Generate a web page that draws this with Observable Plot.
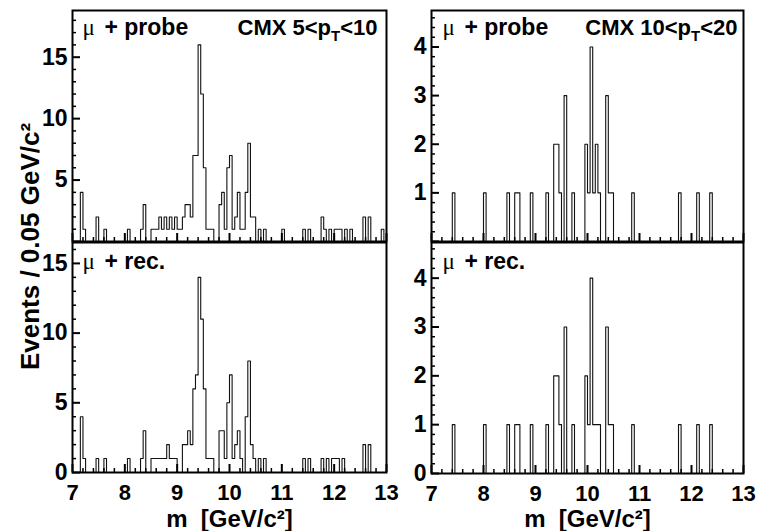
<!DOCTYPE html>
<html><head><meta charset="utf-8">
<script src="https://cdn.jsdelivr.net/npm/d3@7"></script>
<script src="https://cdn.jsdelivr.net/npm/@observablehq/plot@0.6"></script>
<style>
html,body{margin:0;padding:0;background:#fff;}
#chart{position:relative;width:758px;height:531px;overflow:hidden;background:#fff;}
#chart svg{position:absolute;left:0;top:0;}
</style></head><body><div id="chart"></div>
<script>
// ---- binning and axis ticks ----
const massLow = 7, binWidth = 0.05;
const xTickLabels = [7, 8, 9, 10, 11, 12, 13];
const yTicksLowTop = [5, 10, 15];
const yTicksLowBottom = [0, 5, 10, 15];
const yTicksHighTop = [1, 2, 3, 4];
const yTicksHighBottom = [0, 1, 2, 3, 4];

// ---- counts per 0.05 GeV/c^2 bin, 7..13 GeV/c^2 (120 bins) ----
// CMX 5<pT<10, mu + probe
const probeLow = [
  0,0,0,4,1,0,0,0,0,2,
  0,0,1,0,0,0,0,0,0,0,
  0,1,0,0,0,0,1,3,0,0,
  1,1,1,2,1,2,1,2,1,2,
  1,1,2,3,3,2,7,7,16,12,
  6,1,1,1,0,0,3,4,1,6,
  7,1,2,4,1,1,4,8,2,2,
  0,1,0,1,0,0,0,0,0,0,
  1,0,0,0,0,0,0,0,1,0,
  1,0,0,0,0,2,1,0,1,0,
  1,1,1,0,1,0,1,0,0,0,
  0,2,0,2,0,0,0,0,1,0
];
// CMX 5<pT<10, mu + rec.
const recLow = [
  0,0,0,4,1,0,0,0,0,1,
  0,0,1,0,0,0,0,0,0,0,
  0,1,0,0,0,0,1,3,0,0,
  1,1,1,1,1,1,2,1,1,1,
  0,0,2,2,3,2,6,7,14,11,
  6,1,1,1,0,0,3,3,1,5,
  7,1,2,3,1,0,4,8,2,1,
  0,1,0,1,0,0,0,0,0,0,
  0,0,0,0,0,0,0,0,1,0,
  1,0,0,0,0,1,0,1,0,1,
  1,1,0,1,0,0,0,0,0,0,
  0,2,0,2,0,0,0,0,0,0
];
// CMX 10<pT<20, mu + probe
const probeHigh = [
  0,0,0,0,0,0,0,0,1,0,
  0,0,0,0,0,0,0,0,0,0,
  1,0,0,0,0,0,0,0,0,1,
  0,0,1,1,0,0,0,0,1,0,
  0,0,0,0,1,0,0,2,2,1,
  0,3,0,0,1,0,0,0,0,2,
  1,4,1,2,1,0,0,3,1,1,
  0,0,0,0,0,0,0,1,0,0,
  0,0,0,0,0,0,0,0,0,0,
  0,0,0,0,0,1,0,0,0,0,
  0,0,1,0,0,0,0,1,0,0,
  0,0,0,0,0,0,0,0,0,0
];
// CMX 10<pT<20, mu + rec.
const recHigh = [
  0,0,0,0,0,0,0,0,1,0,
  0,0,0,0,0,0,0,0,0,0,
  1,0,0,0,0,0,0,0,0,1,
  0,0,1,1,0,0,0,0,1,0,
  0,0,0,0,1,0,0,2,2,1,
  0,3,0,0,1,0,0,0,0,2,
  1,4,1,1,1,0,0,3,1,1,
  0,0,0,0,0,0,0,1,0,0,
  0,0,0,0,0,0,0,0,0,0,
  0,0,0,0,0,1,0,0,0,0,
  0,0,1,0,0,0,0,1,0,0,
  0,0,0,0,0,0,0,0,0,0
];

const FONT = "'Liberation Sans', Arial, Helvetica, sans-serif";
const SERIF = "'Liberation Serif', 'Times New Roman', serif";
const W = 758, H = 531;
const ctx = document.createElement("canvas").getContext("2d");
function textWidth(s, size, weight, family) {
  ctx.font = `${weight} ${size}px ${family}`;
  return ctx.measureText(s).width;
}

function histPoints(counts) {
  const pts = counts.map((c, i) => ({m: massLow + i * binWidth, n: c}));
  pts.push({m: massLow + counts.length * binWidth, n: counts[counts.length - 1]});
  return pts;
}

function panel(cfg) {
  const f = cfg.frame;
  const fw = f.right - f.left, fh = f.bottom - f.top;
  const xMinor = d3.range(7.2, 12.9, 0.2).filter(v => Math.abs(v - Math.round(v)) > 1e-6);
  const yMinor = d3.range(0, cfg.yMax, cfg.yMinorStep).filter(v => Math.abs(v / cfg.yMajorStep - Math.round(v / cfg.yMajorStep)) > 1e-6);
  const yMajor = d3.range(0, cfg.yMax, cfg.yMajorStep);
  const LS = 22;
  const kinParts = [
    {t: cfg.kin[0], size: LS, dy: 0},
    {t: cfg.kin[1], size: 15, dy: 6},
    {t: cfg.kin[2], size: LS, dy: 0}
  ];
  const widths = kinParts.map(p => textWidth(p.t || "", p.size, "bold", FONT));
  let xpos = (f.right - cfg.kinPad) - d3.sum(widths);
  const kinMarks = kinParts.map((p, i) => {
    const mk = Plot.text([p.t], {frameAnchor: "top-left", text: d => d, textAnchor: "start", lineAnchor: "bottom",
      dx: xpos - f.left, dy: cfg.labelBase + p.dy, fontSize: p.size, fontWeight: "bold", fontFamily: FONT, fill: "#000"});
    xpos += widths[i];
    return mk;
  });
  const muW = textWidth("μ", LS, "normal", SERIF);
  const spW = textWidth(" ", LS, "bold", FONT);
  const tagDx = Math.max(cfg.tagPad + muW + spW, cfg.tagPad + 22);
  const marks = [
    Plot.line(histPoints(cfg.counts), {x: "m", y: "n", curve: "step-after", stroke: "#111", strokeWidth: 1.1}),
    Plot.tickX(xMinor, {x: d => d, insetTop: fh - 4, stroke: "#000", strokeWidth: 1.5}),
    Plot.tickX(xTickLabels, {x: d => d, insetTop: fh - 8, stroke: "#000", strokeWidth: 2}),
    Plot.tickY(yMinor, {y: d => d, insetRight: fw - 4, stroke: "#000", strokeWidth: 1.5}),
    Plot.tickY(yMajor, {y: d => d, insetRight: fw - 8, stroke: "#000", strokeWidth: 2}),
    Plot.axisY(cfg.yLabels, {tickSize: 0, tickPadding: 5, label: null, fontSize: 23, fontWeight: "bold", fontFamily: FONT, fill: "#000"}),
    Plot.frame({stroke: "#000", strokeWidth: 2}),
    Plot.text(["μ"], {frameAnchor: "top-left", text: d => d, textAnchor: "start", lineAnchor: "bottom",
      dx: cfg.tagPad, dy: cfg.labelBase, fontSize: LS + 1, fontWeight: "normal", fontFamily: SERIF, fill: "#000"}),
    Plot.text([cfg.tag], {frameAnchor: "top-left", text: d => d, textAnchor: "start", lineAnchor: "bottom",
      dx: tagDx, dy: cfg.labelBase, fontSize: LS + 1, fontWeight: "bold", fontFamily: FONT, fill: "#000"}),
    ...(cfg.kin[0] ? kinMarks : [])
  ];
  if (cfg.showX) {
    marks.push(Plot.axisX(xTickLabels, {tickSize: 0, tickPadding: 12, label: null, fontSize: 22, fontWeight: "bold", fontFamily: FONT, fill: "#000"}));
    marks.push(Plot.text(["m\u00a0\u00a0[GeV/c²]"], {frameAnchor: "bottom", text: d => d, lineAnchor: "bottom",
      dy: 526 - f.bottom, fontSize: 24, fontWeight: "bold", fontFamily: FONT, fill: "#000"}));
  }
  if (cfg.yTitle) {
    marks.push(Plot.text([cfg.yTitle], {frameAnchor: "left", text: d => d, rotate: -90, textAnchor: "middle", lineAnchor: "bottom",
      dx: 38 - f.left, dy: 246 - (f.top + f.bottom) / 2, fontSize: 26, fontWeight: "bold", fontFamily: FONT, fill: "#000"}));
  }
  return Plot.plot({
    width: W, height: H,
    marginLeft: f.left, marginRight: W - f.right, marginTop: f.top, marginBottom: H - f.bottom,
    x: {domain: [7, 13], axis: null},
    y: {domain: [0, cfg.yMax], axis: null},
    style: {background: "transparent", overflow: "visible", fontFamily: FONT, color: "#000"},
    marks
  });
}

const panels = [
  {counts: probeLow, yMax: 18.8, yMajorStep: 5, yMinorStep: 1, yLabels: yTicksLowTop,
   frame: {left: 72, right: 386, top: 10, bottom: 241}, showX: false, tag: "+ probe", tagPad: 10,
   kin: ["CMX 5<p", "T", "<10"], kinPad: 9, labelBase: 24},
  {counts: recLow, yMax: 16.5, yMajorStep: 5, yMinorStep: 1, yLabels: yTicksLowBottom,
   frame: {left: 72, right: 386, top: 242, bottom: 472}, showX: true, tag: "+ rec.", tagPad: 10,
   kin: [null], kinPad: 9, labelBase: 26, yTitle: "Events / 0.05 GeV/c²"},
  {counts: probeHigh, yMax: 4.75, yMajorStep: 1, yMinorStep: 0.2, yLabels: yTicksHighTop,
   frame: {left: 431, right: 743, top: 10, bottom: 241}, showX: false, tag: "+ probe", tagPad: 11,
   kin: ["CMX 10<p", "T", "<20"], kinPad: 6, labelBase: 24},
  {counts: recHigh, yMax: 4.73, yMajorStep: 1, yMinorStep: 0.2, yLabels: yTicksHighBottom,
   frame: {left: 431, right: 743, top: 242, bottom: 473}, showX: true, tag: "+ rec.", tagPad: 11,
   kin: [null], kinPad: 6, labelBase: 26}
];

const chart = document.getElementById("chart");
for (const p of panels) chart.appendChild(panel(p));
</script>
</body></html>
